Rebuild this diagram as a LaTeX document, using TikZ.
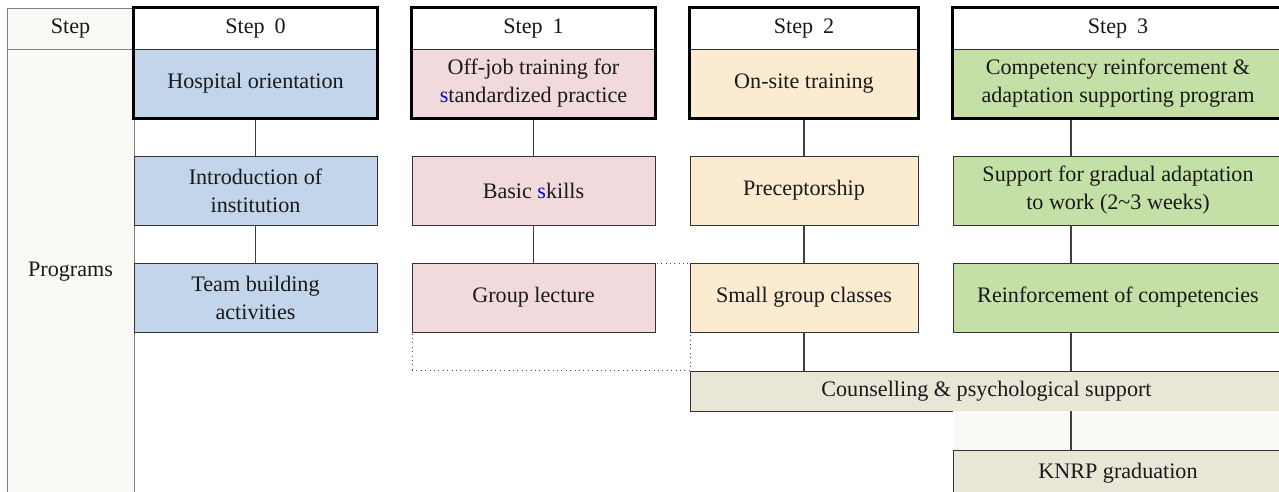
\documentclass[tikz,border=0pt]{standalone}
\usepackage{fontspec}
\setmainfont{Liberation Serif}
\usetikzlibrary{positioning}
\definecolor{sidecream}{RGB}{250,249,245}
\definecolor{orientblue}{RGB}{194,213,235}
\definecolor{offjobpink}{RGB}{242,218,220}
\definecolor{onsitecream}{RGB}{251,235,209}
\definecolor{reinfgreen}{RGB}{196,224,166}
\definecolor{supportbeige}{RGB}{234,230,215}

\begin{document}
\begin{tikzpicture}[
  x=0.02cm, y=-0.02cm,
  cell/.style={draw=black!80, line width=0.5pt, align=center, inner sep=0pt, text=black!90, font=\fontsize{12.6}{15.9}\selectfont},
  side/.style={cell, draw=black!50, fill=sidecream, minimum width=2.54cm},
  head/.style={cell, fill=white, minimum height=0.82cm},
  prog/.style={cell, minimum height=1.38cm},
  link/.style={draw=black!75, line width=0.7pt},
  frame/.style={draw=black, line width=1.6pt}
]
  \useasboundingbox (0,0) rectangle (1279,492);

  % left column
  \node[side, minimum height=0.82cm] (stephead) at (70.5,28.5) {Step};
  \node[side, minimum height=8.92cm] (proghead) at (70.5,272) {Programs};

  % step 0
  \node[head, minimum width=4.86cm] (h0) at (255.5,28.5) {Step\hspace{0.45em}0};
  \node[prog, fill=orientblue, minimum width=4.86cm] (hosp) at (255.5,83.5) {Hospital orientation};
  \node[prog, fill=orientblue, minimum width=4.86cm] (intro) at (255.5,190.5) {Introduction of\\institution};
  \node[prog, fill=orientblue, minimum width=4.86cm] (team) at (255.5,297.5) {Team building\\activities};

  % step 1
  \node[draw=black!70, dotted, line width=0.5pt, minimum width=5.56cm, minimum height=2.14cm] (lecturezone) at (551,316.5) {};
  \node[head, minimum width=4.86cm] (h1) at (533.5,28.5) {Step\hspace{0.45em}1};
  \node[prog, fill=offjobpink, minimum width=4.86cm] (offjob) at (533.5,83.5) {Off-job training for\\{\color{blue}s}tandardized practice};
  \node[prog, fill=offjobpink, minimum width=4.86cm] (basic) at (533.5,190.5) {Basic {\color{blue}s}kills};
  \node[prog, fill=offjobpink, minimum width=4.86cm] (group) at (533.5,297.5) {Group lecture};

  % step 2
  \node[head, minimum width=4.56cm] (h2) at (804,28.5) {Step\hspace{0.45em}2};
  \node[prog, fill=onsitecream, minimum width=4.56cm] (onsite) at (804,83.5) {On-site training};
  \node[prog, fill=onsitecream, minimum width=4.56cm] (precep) at (804,190.5) {Preceptorship};
  \node[prog, fill=onsitecream, minimum width=4.56cm] (smallgrp) at (804,297.5) {Small group classes};

  % step 3
  \node[head, minimum width=6.6cm] (h3) at (1118,28.5) {Step\hspace{0.45em}3};
  \node[prog, fill=reinfgreen, minimum width=6.6cm] (comp) at (1118,83.5) {Competency reinforcement \&\\adaptation supporting program};
  \node[prog, fill=reinfgreen, minimum width=6.6cm] (adapt) at (1118,190.5) {Support for gradual adaptation\\to work (2\textasciitilde3 weeks)};
  \node[prog, fill=reinfgreen, minimum width=6.6cm] (reinf) at (1118,297.5) {Reinforcement of competencies};
  \coordinate (s3) at (1071,0);

  % shared support and graduation
  \node[cell, fill=supportbeige, minimum width=11.86cm, minimum height=0.8cm] (counsel) at (986.5,391) {Counselling \& psychological support};
  \fill[sidecream] (953,411) rectangle (1283,496);
  \node[cell, fill=supportbeige, minimum width=6.6cm, minimum height=0.92cm] (knrp) at (1118,473) {KNRP graduation};

  % connectors
  \draw[link] (hosp) -- (intro);
  \draw[link] (intro) -- (team);
  \draw[link] (offjob) -- (basic);
  \draw[link] (basic) -- (group);
  \draw[link] (onsite) -- (precep);
  \draw[link] (precep) -- (smallgrp);
  \draw[link] (smallgrp) -- (smallgrp.south |- counsel.north);
  \draw[link] (comp.south -| s3) -- (adapt.north -| s3);
  \draw[link] (adapt.south -| s3) -- (reinf.north -| s3);
  \draw[link] (reinf.south -| s3) -- (counsel.north -| s3);
  \draw[link] (counsel.south -| s3) -- (knrp.north -| s3);

  % heavy frames round each step title
  \draw[frame] (h0.north west) rectangle (hosp.south east);
  \draw[frame] (h1.north west) rectangle (offjob.south east);
  \draw[frame] (h2.north west) rectangle (onsite.south east);
  \draw[frame] (h3.north west) rectangle (comp.south east);
\end{tikzpicture}
\end{document}
